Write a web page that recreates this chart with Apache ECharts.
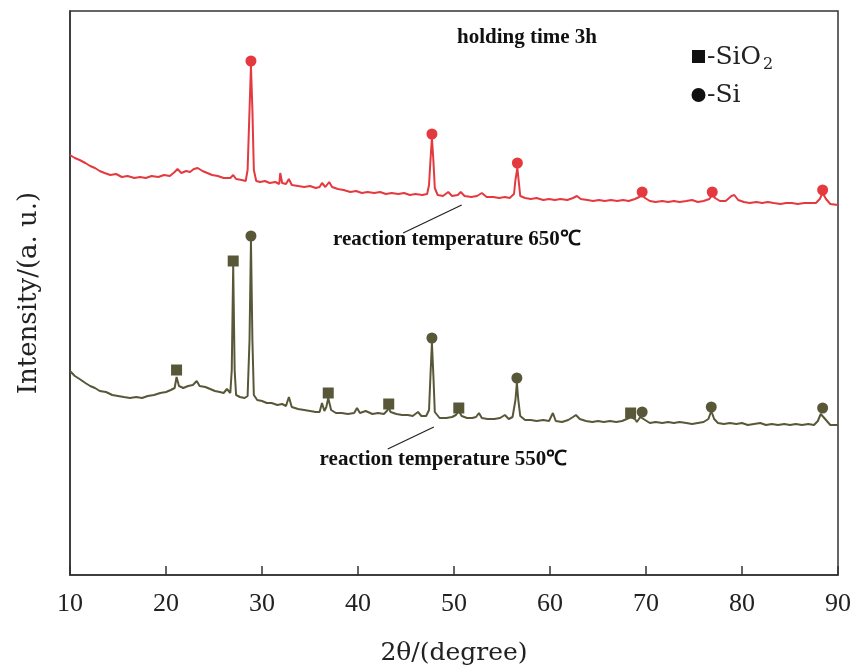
<!DOCTYPE html>
<html><head><meta charset="utf-8">
<script src="https://cdn.jsdelivr.net/npm/echarts@6/dist/echarts.min.js"></script>
<style>html,body{margin:0;padding:0;background:#fff}#c{width:858px;height:669px}</style>
</head><body><div id="c"></div>
<script>
// 650 °C curve: 2θ and intensity (a.u.)
const red650X = [10.0,10.5,11.0,11.6,12.1,12.6,13.1,13.6,14.2,14.8,15.4,16.0,16.7,17.3,17.9,18.5,19.2,19.8,20.4,20.9,21.2,21.6,22.1,22.5,22.9,23.3,23.8,24.3,24.8,25.4,26.0,26.7,27.0,27.3,27.9,28.3,28.5,28.7,28.85,29.0,29.15,29.4,29.8,30.3,30.8,31.4,31.8,31.9,32.1,32.5,32.8,33.1,33.75,34.4,35.0,35.6,36.0,36.25,36.6,37.0,37.3,37.9,38.5,39.2,39.8,40.4,41.0,41.7,42.3,42.9,43.5,44.2,44.8,45.4,46.0,46.7,47.2,47.4,47.55,47.7,47.85,48.0,48.3,48.85,49.4,49.8,50.4,50.7,51.1,51.8,52.4,52.9,53.4,54.1,54.7,55.3,55.8,56.25,56.4,56.6,56.75,56.9,57.4,58.0,58.6,59.3,59.9,60.5,61.1,61.8,62.4,62.8,63.2,63.9,64.5,65.1,65.7,66.35,67.0,67.6,68.2,68.85,69.3,69.6,69.9,70.4,71.0,71.7,72.3,72.9,73.5,74.2,74.8,75.4,76.0,76.6,76.9,77.2,77.7,78.3,78.9,79.2,79.6,80.2,80.8,81.5,82.1,82.7,83.3,84.0,84.6,85.2,85.8,86.5,87.1,87.7,88.1,88.4,88.75,89.2,90.0];
const red650Y = [420,417,415,412,409,407,404,402,400,401,398,399,397,398,397,399,398,400,399,403,406,402,404,403,406,407,404,402,400,399,397,397,400,396,395,394,405,465,509,465,405,394,393,394,392,393,391,402,392,391,396,390,389,388,389,387,388,392,388,393,388,386,385,383,384,382,383,382,383,381,382,381,382,380,381,380,381,390,415,437,415,387,380,379,383,379,380,383,379,378,379,382,378,378,377,378,377,381,395,407,393,379,377,376,377,375,376,375,376,375,377,379,376,375,374,375,374,375,374,375,374,376,378,380,377,374,373,374,373,374,373,374,375,373,374,376,380,377,374,374,379,380,375,373,372,373,372,373,372,371,372,372,371,372,372,372,376,382,376,371,370];
// 550 °C curve
const olive550X = [10.0,10.5,11.0,11.6,12.1,12.6,13.1,13.75,14.4,15.0,15.6,16.25,16.9,17.5,18.1,18.75,19.4,20.0,20.5,20.9,21.1,21.35,21.8,22.3,22.8,23.2,23.5,24.1,24.6,25.1,25.6,26.0,26.35,26.7,26.85,27.0,27.15,27.3,27.7,28.2,28.5,28.7,28.85,29.0,29.15,29.5,30.0,30.5,31.0,31.6,32.1,32.5,32.8,33.1,33.75,34.4,35.0,35.6,36.0,36.25,36.5,36.7,36.9,37.2,37.7,38.3,38.95,39.6,39.9,40.2,40.8,41.5,42.1,42.7,43.0,43.2,43.4,44.0,44.6,45.2,45.7,46.25,46.6,47.1,47.4,47.55,47.7,47.85,48.0,48.5,49.2,49.8,50.2,50.5,50.8,51.35,51.9,52.3,52.6,52.9,53.5,54.2,54.8,55.3,55.7,56.1,56.4,56.55,56.7,56.9,57.4,58.0,58.6,59.3,59.9,60.3,60.6,61.25,61.9,62.4,62.7,63.1,63.75,64.4,65.0,65.6,66.25,66.9,67.5,68.0,68.4,68.85,69.05,69.4,69.6,69.9,70.4,71.0,71.7,72.3,72.9,73.5,74.2,74.8,75.4,76.0,76.5,76.8,77.1,77.5,78.1,78.75,79.4,80.0,80.6,81.25,81.9,82.5,83.1,83.75,84.4,85.0,85.6,86.25,86.9,87.5,87.9,88.2,88.4,88.75,89.2,90.0];
const olive550Y = [204,199,196,192,189,187,184,183,180,179,178,177,178,177,179,180,182,183,185,187,198,189,187,189,190,194,189,188,186,184,183,182,186,182,205,309,205,180,178,177,179,235,334,235,180,175,174,172,172,170,171,169,178,168,166,165,164,163,163,172,164,168,177,165,162,162,161,162,167,162,164,161,162,161,164,167,163,161,160,160,159,163,159,159,165,200,232,200,163,157,157,158,160,164,159,157,157,158,162,157,156,156,157,160,156,158,175,192,175,159,155,155,154,155,154,162,154,153,155,158,160,156,154,153,154,153,154,153,154,156,158,156,153,158,160,155,152,153,152,153,152,153,152,151,152,153,156,164,156,152,151,152,151,152,150,151,152,150,151,150,151,150,151,150,151,150,154,161,163,155,150,150];
// phase markers [2θ, intensity]
const siRed650 = [[28.85,514],[47.7,441],[56.6,412],[69.6,383],[76.9,383],[88.4,385]];
const siOlive550 = [[28.85,339],[47.7,237],[56.55,197],[69.6,163],[76.8,168],[88.4,167]];
const sio2Olive550 = [[21.1,205],[27.0,314],[36.9,182],[43.2,171],[50.5,167],[68.4,162]];
const xTicks = [10,20,30,40,50,60,70,80,90];
const leader650 = [[44.7,342],[50.8,370]];
const leader550 = [[43.1,126],[47.9,148]];
const label650 = {text:'reaction temperature 650℃', at:[50.3,335]};
const label550 = {text:'reaction temperature 550℃', at:[48.9,115]};
const titleText = {text:'holding time 3h', at:[57.6,537]};

const RED = '#e4393f', OLIVE = '#585839';
const zip = (xs, ys) => xs.map((x,i)=>[x, ys[i]]);
const chart = echarts.init(document.getElementById('c'));
chart.setOption({
  animation:false,
  grid:{left:70,right:20,top:11,bottom:94,show:true,borderColor:'#333',borderWidth:1.5,containLabel:false,outerBoundsMode:'none'},
  xAxis:{type:'value',min:10,max:90,interval:10,
    axisLine:{lineStyle:{color:'#333',width:1.5}},
    axisTick:{inside:true,length:9,lineStyle:{color:'#333',width:1.5}},
    splitLine:{show:false},
    axisLabel:{fontFamily:'Liberation Serif',fontSize:26,color:'#222',margin:16,
      formatter:v=>xTicks.includes(v)?String(v):''},
    name:'2θ/(degree)',nameLocation:'middle',nameGap:66,
    nameTextStyle:{fontFamily:'DejaVu Serif',fontSize:25,color:'#222'}},
  yAxis:{type:'value',min:0,max:564,
    axisLine:{show:true,lineStyle:{color:'#333',width:1.5}},
    axisTick:{show:false},axisLabel:{show:false},splitLine:{show:false},
    name:'Intensity/(a. u.)',nameLocation:'middle',nameGap:28,
    nameTextStyle:{fontFamily:'DejaVu Serif',fontSize:26,color:'#222'}},
  series:[
    {type:'line',data:zip(red650X,red650Y),showSymbol:false,lineStyle:{color:RED,width:2},
     markLine:{silent:true,symbol:'none',lineStyle:{color:'#222',width:1.2,type:'solid'},label:{show:false},
       data:[[{coord:leader650[0]},{coord:leader650[1]}]]}},
    {type:'line',data:zip(olive550X,olive550Y),showSymbol:false,lineStyle:{color:OLIVE,width:2},
     markLine:{silent:true,symbol:'none',lineStyle:{color:'#222',width:1.2,type:'solid'},label:{show:false},
       data:[[{coord:leader550[0]},{coord:leader550[1]}]]}},
    {type:'scatter',data:siRed650,symbol:'circle',symbolSize:11,itemStyle:{color:RED,opacity:1}},
    {type:'scatter',data:siOlive550,symbol:'circle',symbolSize:11,itemStyle:{color:OLIVE,opacity:1}},
    {type:'scatter',data:sio2Olive550,symbol:'rect',symbolSize:11,itemStyle:{color:OLIVE,opacity:1}}
  ]
});
const px = p => chart.convertToPixel({gridIndex:0}, p);
const t650 = px(label650.at), t550 = px(label550.at), tt = px(titleText.at);
chart.setOption({graphic:[
  {type:'text',x:t650[0],y:t650[1],style:{text:label650.text,align:'center',verticalAlign:'middle',fill:'#111',font:'bold 21px "Liberation Serif"'}},
  {type:'text',x:t550[0],y:t550[1],style:{text:label550.text,align:'center',verticalAlign:'middle',fill:'#111',font:'bold 21px "Liberation Serif"'}},
  {type:'text',x:tt[0],y:tt[1],style:{text:titleText.text,align:'center',verticalAlign:'middle',fill:'#111',font:'bold 21px "Liberation Serif"'}},
  {type:'rect',shape:{x:692,y:50,width:13,height:13},style:{fill:'#111'}},
  {type:'text',x:707,y:57,style:{text:'-SiO',verticalAlign:'middle',fill:'#222',font:'25px "DejaVu Serif"'}},
  {type:'text',x:763,y:65,style:{text:'2',verticalAlign:'middle',fill:'#222',font:'16px "DejaVu Serif"'}},
  {type:'circle',shape:{cx:698.5,cy:95,r:7},style:{fill:'#111'}},
  {type:'text',x:707,y:95,style:{text:'-Si',verticalAlign:'middle',fill:'#222',font:'25px "DejaVu Serif"'}}
]});
</script></body></html>
